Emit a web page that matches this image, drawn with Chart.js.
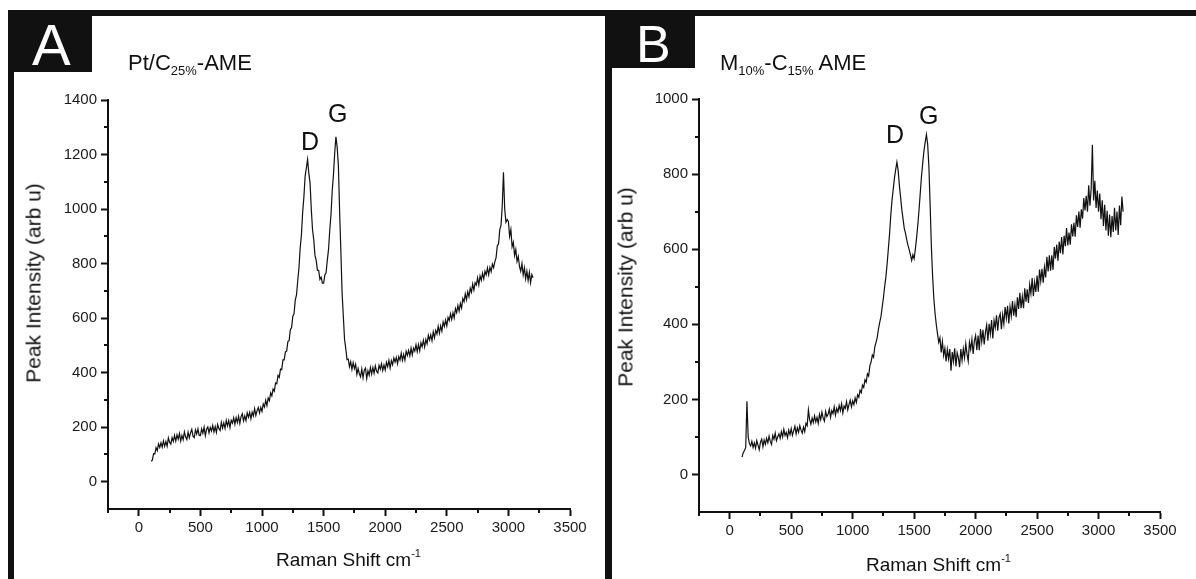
<!DOCTYPE html>
<html>
<head>
<meta charset="utf-8">
<script src="https://cdn.jsdelivr.net/npm/chart.js@4.4.1/dist/chart.umd.min.js"></script>
<style>
  body { margin: 0; background: #fff; }
  #fig { position: relative; width: 1196px; height: 579px; overflow: hidden; background: #fff;
         font-family: "Liberation Sans", Arial, sans-serif; color: #111; }
  .bar { position: absolute; background: #111; }
  canvas { position: absolute; top: 0; }
  .txt { position: absolute; white-space: nowrap; }
  .lbl { color: #fff; }
  .sub { position: relative; top: 5px; font-size: 13px; }
  .sup { position: relative; top: -9px; font-size: 11px; }
  .rot { transform: translate(-50%, -50%) rotate(-90deg); font-size: 21px; line-height: 21px; }
</style>
</head>
<body>
<div id="fig">
  <!-- frame -->
  <div class="bar" style="left:8px;top:10px;width:1188px;height:6px"></div>
  <div class="bar" style="left:8px;top:10px;width:6px;height:569px"></div>
  <div class="bar" style="left:8px;top:10px;width:84px;height:62px"></div>
  <div class="bar" style="left:605px;top:10px;width:7px;height:569px"></div>
  <div class="bar" style="left:605px;top:10px;width:90px;height:58px"></div>

  <canvas id="chartA" width="600" height="579" style="left:0"></canvas>
  <canvas id="chartB" width="596" height="579" style="left:600px"></canvas>

  <!-- panel labels and titles -->
  <div class="txt lbl" style="left:32px;top:16px;font-size:58px;line-height:58px">A</div>
  <div class="txt lbl" style="left:636px;top:18px;font-size:52px;line-height:52px">B</div>
  <div class="txt" style="left:128px;top:52px;font-size:22px;line-height:22px">Pt/C<span class="sub">25%</span>-AME</div>
  <div class="txt" style="left:720px;top:52px;font-size:22px;line-height:22px">M<span class="sub">10%</span>-C<span class="sub">15%</span> AME</div>

  <!-- peak names -->
  <div class="txt" style="left:301px;top:129px;font-size:25px;line-height:25px">D</div>
  <div class="txt" style="left:328px;top:101px;font-size:25px;line-height:25px">G</div>
  <div class="txt" style="left:886px;top:122px;font-size:25px;line-height:25px">D</div>
  <div class="txt" style="left:919px;top:103px;font-size:25px;line-height:25px">G</div>

  <!-- axis titles -->
  <div class="txt" style="left:276px;top:550px;font-size:19px;line-height:19px">Raman Shift cm<span class="sup">-1</span></div>
  <div class="txt" style="left:866px;top:555px;font-size:19px;line-height:19px">Raman Shift cm<span class="sup">-1</span></div>
  <div class="txt rot" style="left:33px;top:283px">Peak Intensity (arb u)</div>
  <div class="txt rot" style="left:625px;top:287px">Peak Intensity (arb u)</div>
</div>

<script>
'use strict';

// ******* DATA *******
// Raman shift (cm-1), shared by both spectra, 100 -> 3200
let ramanShift = [
  100, 110, 120, 130, 140, 150, 160, 170, 180, 190,
  200, 210, 220, 230, 240, 250, 260, 270, 280, 290,
  300, 310, 320, 330, 340, 350, 360, 370, 380, 390,
  400, 410, 420, 430, 440, 450, 460, 470, 480, 490,
  500, 510, 520, 530, 540, 550, 560, 570, 580, 590,
  600, 610, 620, 630, 640, 650, 660, 670, 680, 690,
  700, 710, 720, 730, 740, 750, 760, 770, 780, 790,
  800, 810, 820, 830, 840, 850, 860, 870, 880, 890,
  900, 910, 920, 930, 940, 950, 960, 970, 980, 990,
  1000, 1010, 1020, 1030, 1040, 1050, 1060, 1070, 1080, 1090,
  1100, 1110, 1120, 1130, 1140, 1150, 1160, 1170, 1180, 1190,
  1200, 1210, 1220, 1230, 1240, 1250, 1260, 1270, 1280, 1290,
  1300, 1310, 1320, 1330, 1340, 1350, 1360, 1370, 1380, 1390,
  1400, 1410, 1420, 1430, 1440, 1450, 1460, 1470, 1480, 1490,
  1500, 1510, 1520, 1530, 1540, 1550, 1560, 1570, 1580, 1590,
  1600, 1610, 1620, 1630, 1640, 1650, 1660, 1670, 1680, 1690,
  1700, 1710, 1720, 1730, 1740, 1750, 1760, 1770, 1780, 1790,
  1800, 1810, 1820, 1830, 1840, 1850, 1860, 1870, 1880, 1890,
  1900, 1910, 1920, 1930, 1940, 1950, 1960, 1970, 1980, 1990,
  2000, 2010, 2020, 2030, 2040, 2050, 2060, 2070, 2080, 2090,
  2100, 2110, 2120, 2130, 2140, 2150, 2160, 2170, 2180, 2190,
  2200, 2210, 2220, 2230, 2240, 2250, 2260, 2270, 2280, 2290,
  2300, 2310, 2320, 2330, 2340, 2350, 2360, 2370, 2380, 2390,
  2400, 2410, 2420, 2430, 2440, 2450, 2460, 2470, 2480, 2490,
  2500, 2510, 2520, 2530, 2540, 2550, 2560, 2570, 2580, 2590,
  2600, 2610, 2620, 2630, 2640, 2650, 2660, 2670, 2680, 2690,
  2700, 2710, 2720, 2730, 2740, 2750, 2760, 2770, 2780, 2790,
  2800, 2810, 2820, 2830, 2840, 2850, 2860, 2870, 2880, 2890,
  2900, 2910, 2920, 2930, 2940, 2950, 2960, 2970, 2980, 2990,
  3000, 3010, 3020, 3030, 3040, 3050, 3060, 3070, 3080, 3090,
  3100, 3110, 3120, 3130, 3140, 3150, 3160, 3170, 3180, 3190,
  3200
];

// Pt/C25%-AME peak intensity
let intensityA = [
  75, 79, 103, 102, 125, 114, 139, 126, 143, 127,
  150, 130, 148, 130, 161, 145, 138, 162, 148, 170,
  149, 172, 156, 177, 149, 170, 154, 183, 164, 155,
  182, 161, 179, 192, 167, 162, 190, 175, 194, 170,
  169, 194, 178, 200, 169, 193, 201, 179, 199, 186,
  206, 182, 202, 181, 210, 195, 188, 218, 197, 216,
  196, 225, 205, 224, 199, 225, 215, 234, 211, 235,
  217, 240, 214, 239, 249, 223, 241, 224, 253, 237,
  254, 231, 255, 241, 268, 243, 261, 272, 252, 273,
  258, 285, 274, 299, 279, 307, 297, 326, 315, 340,
  332, 362, 359, 390, 383, 413, 411, 447, 447, 476,
  479, 514, 517, 558, 565, 606, 616, 666, 685, 737,
  784, 858, 905, 988, 1044, 1120, 1150, 1182, 1132, 1096,
  1000, 925, 888, 830, 812, 776, 775, 742, 750, 728,
  728, 758, 766, 812, 852, 922, 980, 1068, 1126, 1205,
  1265, 1228, 1160, 990, 848, 694, 608, 522, 488, 448,
  450, 422, 440, 412, 437, 415, 431, 394, 415, 396,
  385, 413, 381, 409, 417, 378, 407, 391, 419, 395,
  419, 398, 425, 405, 399, 427, 413, 433, 408, 428,
  410, 438, 422, 445, 417, 444, 429, 454, 439, 456,
  433, 459, 446, 471, 445, 467, 446, 478, 463, 482,
  462, 490, 465, 490, 479, 502, 477, 503, 480, 510,
  495, 519, 494, 522, 506, 537, 520, 539, 517, 550,
  528, 555, 542, 570, 545, 572, 552, 586, 570, 593,
  572, 603, 591, 616, 595, 620, 601, 635, 620, 646,
  626, 654, 637, 672, 660, 689, 668, 697, 679, 710,
  695, 725, 703, 730, 722, 748, 722, 755, 739, 765,
  744, 772, 759, 784, 759, 786, 771, 798, 785, 807,
  822, 866, 872, 925, 940, 1012, 1135, 1000, 952, 962,
  955, 900, 925, 862, 878, 830, 852, 808, 826, 790,
  772, 800, 758, 784, 744, 772, 738, 768, 730, 760,
  748
];

// M10%-C15% AME peak intensity
let intensityB = [
  46, 58, 64, 72, 195, 100, 82, 76, 88, 72,
  84, 70, 90, 78, 66, 86, 94, 74, 92, 80,
  96, 84, 102, 88, 80, 104, 94, 110, 90, 100,
  108, 96, 114, 100, 120, 104, 112, 98, 118, 106,
  122, 104, 116, 128, 108, 124, 112, 130, 118, 110,
  126, 114, 136, 130, 172, 146, 134, 150, 138, 156,
  140, 152, 136, 160, 146, 166, 150, 142, 168, 154,
  160, 174, 152, 170, 162, 180, 158, 176, 166, 184,
  170, 188, 164, 182, 176, 194, 172, 186, 198, 180,
  196, 186, 204, 192, 212, 206, 224, 218, 238, 232,
  252, 246, 268, 262, 290, 300, 318, 312, 340, 352,
  365, 388, 405, 420, 445, 470, 500, 525, 560, 600,
  640, 690, 730, 760, 790, 812, 832, 810, 770, 738,
  705, 680, 655, 642, 625, 610, 598, 585, 570, 585,
  575, 600, 630, 665, 705, 750, 795, 830, 862, 885,
  905, 880, 820, 720, 610, 530, 470, 430, 400, 375,
  352, 364, 325, 354, 317, 336, 301, 333, 308, 334,
  276, 326, 301, 336, 288, 324, 311, 286, 334, 304,
  335, 311, 348, 321, 302, 352, 333, 360, 321, 356,
  370, 331, 370, 331, 387, 354, 385, 346, 379, 398,
  356, 401, 374, 411, 362, 410, 391, 424, 383, 418,
  428, 387, 426, 401, 446, 416, 449, 402, 447, 422,
  462, 423, 452, 419, 472, 441, 484, 443, 474, 443,
  496, 460, 493, 457, 506, 482, 523, 475, 512, 486,
  530, 487, 546, 515, 548, 511, 552, 525, 580, 541,
  584, 543, 584, 545, 606, 575, 612, 569, 620, 589,
  632, 586, 636, 608, 656, 610, 644, 612, 666, 634,
  670, 633, 690, 659, 700, 657, 706, 681, 736, 703,
  742, 700, 770, 716, 760, 878, 730, 782, 710, 756,
  700, 748, 680, 730, 662, 718, 650, 702, 636, 692,
  632, 688, 646, 710, 650, 700, 638, 716, 664, 740,
  700
];

// tick positions
let xTickValues = [0, 500, 1000, 1500, 2000, 2500, 3000, 3500];
let yTickValuesA = [0, 200, 400, 600, 800, 1000, 1200, 1400];
let yTickValuesB = [0, 200, 400, 600, 800, 1000];
let xMinorTicks = [-250, 250, 750, 1250, 1750, 2250, 2750, 3250];
let yMinorTicksA = [100, 300, 500, 700, 900, 1100, 1300];
let yMinorTicksB = [100, 300, 500, 700, 900];

// ******* HELPERS *******
const FONT = '"Liberation Sans", Arial, sans-serif';
const INK = '#111';

let minorTicks = {
  id: 'minorTicks',
  afterDraw(chart, args, opts) {
    let ctx = chart.ctx;
    let area = chart.chartArea;
    let x = chart.scales.x;
    let y = chart.scales.y;
    ctx.save();
    ctx.strokeStyle = INK;
    ctx.lineWidth = 2;
    opts.x.forEach(function (v) {
      let px = Math.round(x.getPixelForValue(v));
      ctx.beginPath();
      ctx.moveTo(px, area.bottom);
      ctx.lineTo(px, area.bottom + 4);
      ctx.stroke();
    });
    opts.y.forEach(function (v) {
      let py = Math.round(y.getPixelForValue(v));
      ctx.beginPath();
      ctx.moveTo(area.left, py);
      ctx.lineTo(area.left - 4, py);
      ctx.stroke();
    });
    ctx.restore();
  }
};

function setTicks(values) {
  return function (scale) {
    scale.ticks = values.map(function (v) { return { value: v }; });
  };
}

function makeChart(canvasId, values, yMax, yTicks, yMinor, geo) {
  let points = ramanShift.map(function (x, i) {
    return { x: x, y: values[i] };
  });

  return new Chart(document.getElementById(canvasId), {
    type: 'line',
    data: {
      datasets: [{
        data: points,
        borderColor: INK,
        borderWidth: 1.2,
        pointRadius: 0,
        tension: 0,
        fill: false
      }]
    },
    options: {
      responsive: false,
      animation: false,
      devicePixelRatio: 1,
      layout: { padding: { left: 0, right: geo.right, top: geo.top, bottom: 0 } },
      plugins: {
        legend: { display: false },
        tooltip: { enabled: false },
        minorTicks: { x: xMinorTicks, y: yMinor }
      },
      scales: {
        x: {
          type: 'linear',
          min: -250,
          max: 3500,
          afterBuildTicks: setTicks(xTickValues),
          ticks: {
            autoSkip: false,
            maxRotation: 0,
            padding: 3,
            color: '#1a1a1a',
            font: { family: FONT, size: 15 },
            callback: function (v) { return String(v); }
          },
          grid: { drawOnChartArea: false, drawTicks: true, tickLength: 7, tickWidth: 2, tickColor: INK },
          border: { display: true, color: INK, width: 2 },
          afterFit: function (scale) { scale.height = geo.xHeight; }
        },
        y: {
          min: -100,
          max: yMax,
          afterBuildTicks: setTicks(yTicks),
          ticks: {
            autoSkip: false,
            padding: 4,
            color: '#1a1a1a',
            font: { family: FONT, size: 15 },
            callback: function (v) { return String(v); }
          },
          grid: { drawOnChartArea: false, drawTicks: true, tickLength: 7, tickWidth: 2, tickColor: INK },
          border: { display: true, color: INK, width: 2 },
          afterFit: function (scale) { scale.width = geo.yWidth; }
        }
      }
    },
    plugins: [minorTicks]
  });
}

// ****** EXECUTABLE CODE ********
makeChart('chartA', intensityA, 1400, yTickValuesA, yMinorTicksA, { right: 30, top: 100, xHeight: 70, yWidth: 108 });
makeChart('chartB', intensityB, 1000, yTickValuesB, yMinorTicksB, { right: 36, top: 99, xHeight: 67, yWidth: 99 });
</script>
</body>
</html>
